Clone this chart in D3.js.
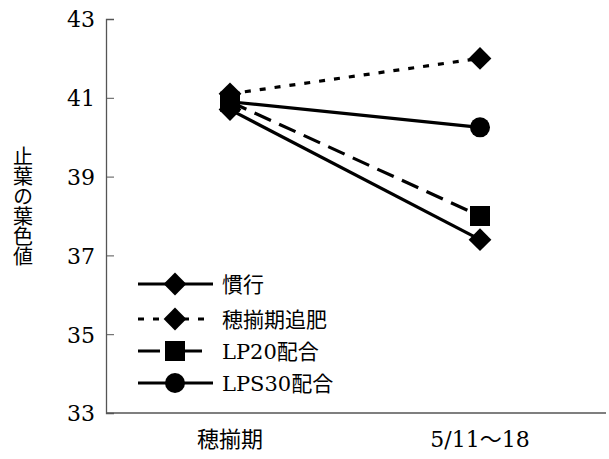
<!DOCTYPE html>
<html lang="ja">
<head>
<meta charset="UTF-8">
<title>止葉の葉色値</title>
<style>
  body { margin: 0; background: #fff; }
  .num { font-family: "DejaVu Serif", "Noto Sans CJK JP", serif; }
</style>
</head>
<body>
<svg id="chart" width="609" height="459"></svg>
<script src="https://cdn.jsdelivr.net/npm/d3@7"></script>
<script>
const categories = ["穂揃期", "5/11～18"];
const seriesNames = ["慣行", "穂揃期追肥", "LP20配合", "LPS30配合"];
const kanko = [40.7, 37.4];
const tsuihi = [41.1, 42.0];
const lp20 = [40.9, 38.0];
const lps30 = [40.9, 40.25];
const yTicks = [33, 35, 37, 39, 41, 43];

const jpFont = "Noto Sans CJK JP";

const series = [
  { name: seriesNames[0], values: kanko, dash: null, marker: "diamond" },
  { name: seriesNames[1], values: tsuihi, dash: "6,9", marker: "diamond" },
  { name: seriesNames[2], values: lp20, dash: "18,9", marker: "square" },
  { name: seriesNames[3], values: lps30, dash: null, marker: "circle" }
];

const svg = d3.select("#chart");
const x = d3.scalePoint().domain(categories).range([230, 480]);
const y = d3.scaleLinear().domain([33, 43]).range([413, 19]);

// axes
const yAxis = svg.append("g").attr("transform", "translate(106,0)")
  .call(d3.axisRight(y).tickValues(yTicks).tickSize(8).tickFormat(d3.format("d")));
yAxis.attr("font-family", null).attr("font-size", null);
yAxis.select(".domain").attr("stroke", "#555").attr("stroke-width", 1.3);
yAxis.selectAll(".tick line").attr("stroke", "#555");
yAxis.selectAll(".tick text")
  .attr("class", "num").attr("font-size", 22).attr("fill", "#000")
  .attr("x", -11).attr("text-anchor", "end").attr("dy", "0.36em");

svg.append("line").attr("x1", 106).attr("x2", 606).attr("y1", 413).attr("y2", 413)
  .attr("stroke", "#555").attr("stroke-width", 1.3);

svg.selectAll(".xlab").data(categories).enter().append("text")
  .attr("class", "num").attr("font-size", 22)
  .attr("x", d => x(d)).attr("y", 447)
  .attr("text-anchor", "middle").text(d => d);

// y label, vertical
svg.append("text")
  .attr("font-family", jpFont).attr("font-size", 20)
  .style("writing-mode", "vertical-rl")
  .attr("x", 23).attr("y", 146)
  .text("止葉の葉色値");

function marker(g, type, cx, cy) {
  if (type === "diamond") {
    g.append("path").attr("d", d3.symbol(d3.symbolDiamond2, 330)())
      .attr("transform", `translate(${cx},${cy})`).attr("fill", "#000");
  } else if (type === "square") {
    g.append("rect").attr("x", cx - 10).attr("y", cy - 10)
      .attr("width", 20).attr("height", 20).attr("fill", "#000");
  } else {
    g.append("circle").attr("cx", cx).attr("cy", cy).attr("r", 10).attr("fill", "#000");
  }
}

const line = d3.line().x((d, i) => x(categories[i])).y(d => y(d));
const plot = svg.append("g");
series.forEach(s => {
  plot.append("path").datum(s.values).attr("d", line)
    .attr("fill", "none").attr("stroke", "#000").attr("stroke-width", 3.2)
    .attr("stroke-dasharray", s.dash);
});
series.forEach(s => {
  s.values.forEach((v, i) => marker(plot, s.marker, x(categories[i]), y(v)));
});

// legend
const legY = [284, 319, 351, 383];
const leg = svg.append("g");
series.forEach((s, i) => {
  leg.append("line").attr("x1", 138).attr("x2", s.marker === "square" ? 202 : 213)
    .attr("y1", legY[i]).attr("y2", legY[i])
    .attr("stroke", "#000").attr("stroke-width", 3.2)
    .attr("stroke-dasharray", s.marker === "square" ? "22,20,60" : s.dash);
  marker(leg, s.marker, 175, legY[i]);
  leg.append("text").attr("class", "num").attr("font-size", 21)
    .attr("x", 222).attr("y", legY[i]).attr("dy", "0.36em").text(s.name);
});
</script>
</body>
</html>
